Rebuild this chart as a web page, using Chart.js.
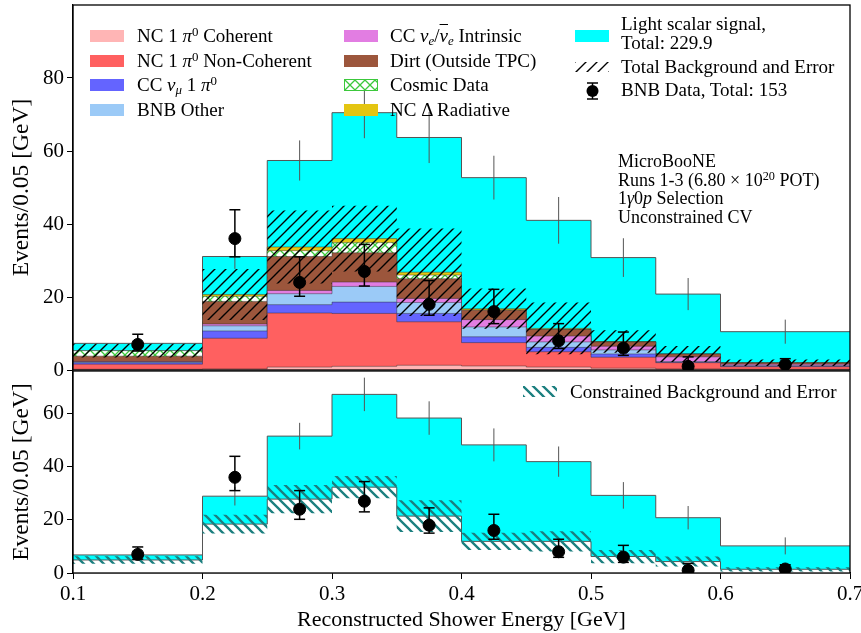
<!DOCTYPE html>
<html>
<head>
<meta charset="utf-8">
<script src="https://cdn.jsdelivr.net/npm/chart.js@4.4.1/dist/chart.umd.min.js"></script>
<style>
  html, body { margin: 0; padding: 0; background: #fff; }
  #wrap { position: relative; width: 861px; height: 633px; font-family: "Liberation Serif", serif; color: #000; }
  canvas { position: absolute; left: 0; }
  #top { top: 0; }
  #bottom { top: 370px; }
  .t { position: absolute; font-size: 19px; line-height: 20px; white-space: nowrap; }
  .note { position: absolute; left: 618px; top: 152px; font-size: 18px; line-height: 18.7px; white-space: nowrap; }
  .sw { position: absolute; width: 34px; height: 12px; }
  .bar { text-decoration: overline; }
  sup { font-size: 0.68em; vertical-align: 0.5em; line-height: 0; }
  sub { font-size: 0.68em; vertical-align: -0.25em; line-height: 0; }
</style>
</head>
<body>
<div id="wrap">
  <canvas id="top" width="861" height="392"></canvas>
  <canvas id="bottom" width="861" height="263"></canvas>

  <!-- legend, upper panel -->
  <div class="sw" style="left:90px;top:30px;background:#ffb5b5"></div>
  <div class="t" style="left:137px;top:26px">NC 1 <i>π</i><sup>0</sup> Coherent</div>
  <div class="sw" style="left:90px;top:55px;background:#ff6060"></div>
  <div class="t" style="left:137px;top:51px">NC 1 <i>π</i><sup>0</sup> Non-Coherent</div>
  <div class="sw" style="left:90px;top:79px;background:#6464ff"></div>
  <div class="t" style="left:137px;top:75px">CC <i>ν</i><sub><i>μ</i></sub> 1 <i>π</i><sup>0</sup></div>
  <div class="sw" style="left:90px;top:104px;background:#9bcaf7"></div>
  <div class="t" style="left:137px;top:100px">BNB Other</div>

  <div class="sw" style="left:344px;top:30px;background:#e27de2"></div>
  <div class="t" style="left:390px;top:26px">CC <i>ν</i><sub><i>e</i></sub>/<i class="bar">ν</i><sub><i>e</i></sub> Intrinsic</div>
  <div class="sw" style="left:344px;top:55px;background:#9c563c"></div>
  <div class="t" style="left:390px;top:51px">Dirt (Outside TPC)</div>
  <div class="sw" id="swCosmic" style="left:344px;top:79px;box-sizing:border-box;border:1.5px solid #3cc83c"></div>
  <div class="t" style="left:390px;top:75px">Cosmic Data</div>
  <div class="sw" style="left:344px;top:104px;background:#e4c511"></div>
  <div class="t" style="left:390px;top:100px">NC Δ Radiative</div>

  <div class="sw" style="left:575px;top:30px;background:#00ffff"></div>
  <div class="t" style="left:621px;top:14px;line-height:19px">Light scalar signal,<br>Total: 229.9</div>
  <div class="sw" id="swBkg" style="left:575px;top:62px;height:10px"></div>
  <div class="t" style="left:621px;top:57px">Total Background and Error</div>
  <svg style="position:absolute;left:584px;top:79px" width="17" height="24">
    <line x1="8.5" y1="4" x2="8.5" y2="20" stroke="#000" stroke-width="1.5"/>
    <line x1="3" y1="4" x2="14" y2="4" stroke="#000" stroke-width="1.5"/>
    <line x1="3" y1="20" x2="14" y2="20" stroke="#000" stroke-width="1.5"/>
    <circle cx="8.5" cy="12" r="6" fill="#000"/>
  </svg>
  <div class="t" style="left:621px;top:80px">BNB Data, Total: 153</div>

  <div class="note">MicroBooNE<br>Runs 1-3 (6.80 × 10<sup>20</sup> POT)<br>1<i>γ</i>0<i>p</i> Selection<br>Unconstrained CV</div>

  <!-- legend, lower panel -->
  <div class="sw" id="swCon" style="left:523px;top:386px;height:11px"></div>
  <div class="t" style="left:570px;top:382px">Constrained Background and Error</div>
</div>

<script>
// bins (GeV) and tick labels
const binEdges = [0.1, 0.2, 0.25, 0.3, 0.35, 0.4, 0.45, 0.5, 0.55, 0.6, 0.7];
const binCenters = [0.15, 0.225, 0.275, 0.325, 0.375, 0.425, 0.475, 0.525, 0.575, 0.65];
const xTicks = [0.1, 0.2, 0.3, 0.4, 0.5, 0.6, 0.7];
const yTicksTop = [0, 20, 40, 60, 80];
const yTicksBottom = [0, 20, 40, 60];

// upper panel, stacked components (events / 0.05 GeV)
const ncCoherent = [0.2, 0.3, 0.8, 1.0, 1.3, 1.1, 0.8, 0.5, 0.3, 0.2];
const ncNonCoherent = [1.4, 8.4, 14.8, 14.5, 11.9, 6.4, 4.2, 3.0, 1.7, 0.7];
const ccNumu1pi0 = [0.4, 2.0, 2.3, 3.1, 2.3, 1.6, 1.2, 0.9, 0.1, 0.1];
const bnbOther = [0.2, 1.4, 3.0, 4.3, 3.0, 2.7, 1.5, 1.1, 0.2, 0.2];
const ccNueIntrinsic = [0.1, 0.5, 0.9, 1.2, 1.1, 2.0, 1.6, 1.0, 1.3, 0.4];
const dirt = [1.5, 6.2, 9.3, 8.0, 5.4, 2.6, 1.8, 1.2, 0.8, 0.4];
const cosmicData = [1.5, 1.4, 1.6, 2.8, 1.0, 0, 0, 0, 0, 0];
const ncDeltaRad = [0, 0.5, 1.0, 1.1, 0.8, 0.4, 0.3, 0.1, 0, 0];
const lightScalar = [2.0, 10.4, 23.7, 34.5, 36.9, 35.9, 29.6, 23.0, 16.4, 8.5];
const lightScalarErr = [1.5, 3.4, 5.5, 7.0, 7.0, 6.0, 6.4, 5.3, 4.4, 3.3];
const bkgErr = [1.9, 7.0, 10.0, 9.0, 12.0, 5.5, 7.1, 3.1, 2.2, 0.9];

// lower panel
const conBkg = [4.9, 18.4, 27.8, 32.3, 21.4, 11.9, 11.9, 6.2, 4.3, 1.4];
const conBkgErr = [1.4, 3.5, 5.3, 4.2, 6.0, 3.2, 3.8, 2.5, 1.9, 0.8];
const conTotal = [6.8, 28.9, 51.5, 67.2, 58.3, 48.2, 41.9, 29.2, 20.8, 10.2];
const conSignalErr = [1.0, 3.5, 5.0, 6.3, 6.3, 6.2, 5.7, 5.0, 4.4, 3.2];

// BNB data with error bar ends
const bnbData = [7, 36, 24, 27, 18, 16, 8, 6, 1, 1.5];
const bnbHigh = [9.8, 43.9, 31.0, 34.4, 24.5, 22.1, 12.7, 10.4, 3.6, 3.1];
const bnbLow = [5.2, 31.0, 20.2, 23.0, 15.0, 12.7, 5.9, 4.0, 0.3, 0.9];

const FONT = 'Liberation Serif';

// hatch tiles
function hatchTile(size, color, width, dirs, bg) {
  const c = document.createElement('canvas');
  c.width = c.height = size;
  const g = c.getContext('2d');
  if (bg) { g.fillStyle = bg; g.fillRect(0, 0, size, size); }
  g.strokeStyle = color;
  g.lineWidth = width;
  dirs.forEach(d => {
    g.beginPath();
    for (let k = -1; k <= 1; k++) {
      if (d === '/') { g.moveTo(k * size - 1, size + 1); g.lineTo(k * size + size + 1, -1); }
      else { g.moveTo(k * size - 1, -1); g.lineTo(k * size + size + 1, size + 1); }
    }
    g.stroke();
  });
  return c;
}
const tileBkg = hatchTile(11, '#000', 1.4, ['/']);
const tileCon = hatchTile(10, '#1b7f7f', 2.3, ['\\']);
const tileCosmic = hatchTile(10, '#3cc83c', 1.3, ['/', '\\'], '#fff');
document.getElementById('swBkg').style.backgroundImage = `url(${tileBkg.toDataURL()})`;
document.getElementById('swCon').style.backgroundImage = `url(${tileCon.toDataURL()})`;
document.getElementById('swCosmic').style.backgroundImage = `url(${tileCosmic.toDataURL()})`;

const stepPts = vals => binEdges.map((x, i) => ({ x, y: vals[Math.min(i, vals.length - 1)] }));
const segs = (lo, hi) => binCenters.flatMap((x, i) => [{ x, y: lo[i] }, { x, y: hi[i] }, { x, y: null }]);

const layer = (vals, bg, order, extra = {}) => Object.assign({
  data: stepPts(vals), stepped: true, fill: 'origin', backgroundColor: bg,
  borderColor: 'rgba(40,40,40,0.55)', borderWidth: 0.8, pointRadius: 0, order
}, extra);

const errSet = (lo, hi, order, caps) => ({
  data: segs(lo, hi), borderColor: caps ? '#000' : '#555', borderWidth: caps ? 1.5 : 1,
  pointRadius: caps ? 5.5 : 0, pointStyle: 'line', pointBorderColor: '#000', pointBorderWidth: 1.5,
  fill: false, order
});

const dataSet = order => ({
  data: binCenters.map((x, i) => ({ x, y: bnbData[i] })), showLine: false,
  pointRadius: 6, pointBackgroundColor: '#000', pointBorderColor: '#000', order
});

const frame = {
  id: 'frame',
  afterDraw(chart) {
    const { ctx, chartArea: a } = chart;
    ctx.save();
    ctx.strokeStyle = '#000';
    ctx.lineWidth = 1.3;
    ctx.strokeRect(a.left, a.top, a.right - a.left, a.bottom - a.top);
    ctx.restore();
  }
};

const yAxis = (max, ticks) => ({
  min: 0, max,
  afterFit: s => { s.width = 73; s.paddingTop = 0; s.paddingBottom = 0; },
  afterBuildTicks: s => { s.ticks = ticks.map(v => ({ value: v })); },
  ticks: { color: '#000', font: { family: FONT, size: 21 }, padding: 3 },
  grid: { drawOnChartArea: false, drawTicks: true, tickLength: 6, color: '#000' },
  border: { color: '#000', width: 1.2 },
  title: { display: true, text: 'Events/0.05 [GeV]', color: '#000', font: { family: FONT, size: 23.5 }, padding: { top: 8, bottom: 0 } }
});

// ---- upper panel ----
const ctxTop = document.getElementById('top').getContext('2d');
const pBkg = ctxTop.createPattern(tileBkg, 'repeat');
const pCosmic = ctxTop.createPattern(tileCosmic, 'repeat');

const comps = [ncCoherent, ncNonCoherent, ccNumu1pi0, bnbOther, ccNueIntrinsic, dirt, cosmicData, ncDeltaRad, lightScalar];
let run = comps[0].map(() => 0);
const cum = comps.map(arr => (run = run.map((v, i) => +(v + arr[i]).toFixed(2))));
const bkgTot = cum[7];

new Chart(ctxTop, {
  type: 'line',
  data: {
    datasets: [
      layer(cum[8], '#00ffff', 20, { borderColor: '#555', borderWidth: 1 }),
      layer(cum[7], '#e4c511', 19),
      layer(cum[6], pCosmic, 18),
      layer(cum[5], '#9c563c', 17),
      layer(cum[4], '#e27de2', 16),
      layer(cum[3], '#9bcaf7', 15),
      layer(cum[2], '#6464ff', 14),
      layer(cum[1], '#ff6060', 13),
      layer(cum[0], '#ffb5b5', 12),
      layer(bkgTot.map((v, i) => v - bkgErr[i]), 'transparent', 11, { fill: false, borderWidth: 0 }),
      layer(bkgTot.map((v, i) => v + bkgErr[i]), pBkg, 10, { fill: 9, borderWidth: 0 }),
      errSet(cum[8].map((v, i) => v - lightScalarErr[i]), cum[8].map((v, i) => v + lightScalarErr[i]), 3, false),
      errSet(bnbLow, bnbHigh, 2, true),
      dataSet(1)
    ]
  },
  options: {
    responsive: false, animation: false, events: [],
    layout: { autoPadding: false, padding: { left: 0, right: 11, top: 5, bottom: 22 } },
    plugins: { legend: { display: false }, tooltip: { enabled: false } },
    scales: {
      x: { type: 'linear', min: 0.1, max: 0.7, display: false },
      y: yAxis(100, yTicksTop)
    }
  },
  plugins: [frame]
});

// ---- lower panel ----
const ctxBot = document.getElementById('bottom').getContext('2d');
const pCon = ctxBot.createPattern(tileCon, 'repeat');

new Chart(ctxBot, {
  type: 'line',
  data: {
    datasets: [
      layer(conTotal, '#00ffff', 20, { borderColor: '#555', borderWidth: 1 }),
      layer(conBkg, '#ffffff', 19, { borderColor: '#555', borderWidth: 1 }),
      layer(conBkg.map((v, i) => v - conBkgErr[i]), 'transparent', 18, { fill: false, borderWidth: 0 }),
      layer(conBkg.map((v, i) => v + conBkgErr[i]), pCon, 17, { fill: 2, borderWidth: 0 }),
      errSet(conTotal.map((v, i) => v - conSignalErr[i]), conTotal.map((v, i) => v + conSignalErr[i]), 3, false),
      errSet(bnbLow, bnbHigh, 2, true),
      dataSet(1)
    ]
  },
  options: {
    responsive: false, animation: false, events: [],
    layout: { autoPadding: false, padding: { left: 0, right: 11, top: 1, bottom: 0 } },
    plugins: { legend: { display: false }, tooltip: { enabled: false } },
    scales: {
      x: {
        type: 'linear', min: 0.1, max: 0.7,
        afterFit: s => { s.height = 60; s.paddingLeft = 0; s.paddingRight = 0; },
        afterBuildTicks: s => { s.ticks = xTicks.map(v => ({ value: v })); },
        ticks: { color: '#000', font: { family: FONT, size: 21 }, padding: 3, callback: v => v.toFixed(1) },
        grid: { drawOnChartArea: false, drawTicks: true, tickLength: 6, color: '#000' },
        border: { color: '#000', width: 1.2 },
        title: { display: true, text: 'Reconstructed Shower Energy [GeV]', color: '#000', font: { family: FONT, size: 22 }, padding: { top: 0, bottom: 0 } }
      },
      y: yAxis(76, yTicksBottom)
    }
  },
  plugins: [frame]
});
</script>
</body>
</html>
